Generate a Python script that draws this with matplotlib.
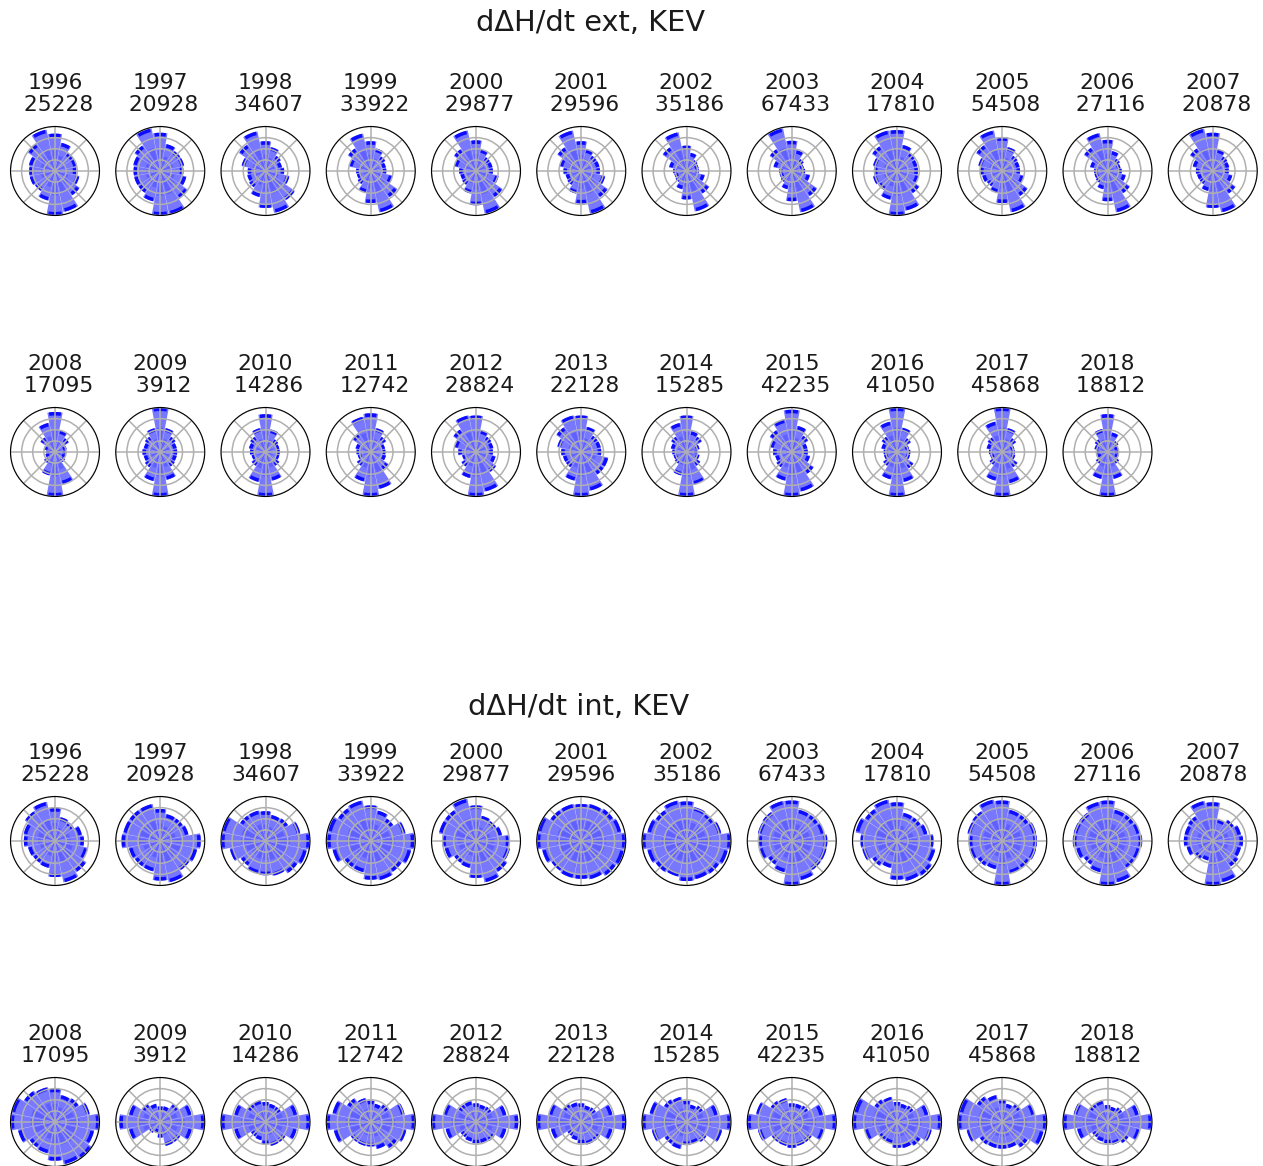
import matplotlib
matplotlib.use("Agg")
import matplotlib.pyplot as plt
import numpy as np

# years and event counts shown above each rose
years = list(range(1996, 2019))
counts = [25228, 20928, 34607, 33922, 29877, 29596, 35186, 67433, 17810, 54508, 27116, 20878,
          17095, 3912, 14286, 12742, 28824, 22128, 15285, 42235, 41050, 45868, 18812]

# rose values, clockwise from north in 16 sectors, scaled to the outer circle
ext_1996 = [.84, .65, .5, .5, .48, .56, .67, .94, 1.0, .68, .55, .58, .58, .6, .74, .95]
ext_1997 = [.86, .62, .55, .55, .52, .6, .75, 1.0, 1.0, .7, .6, .6, .6, .62, .7, .98]
ext_1998 = [.67, .55, .42, .38, .42, .55, .8, .96, .83, .6, .45, .42, .4, .55, .72, .91]
ext_1999 = [.67, .52, .4, .35, .35, .5, .72, .95, .72, .5, .36, .32, .33, .5, .62, .86]
ext_2000 = [.69, .5, .38, .38, .38, .52, .72, .98, .77, .52, .38, .36, .38, .5, .6, .93]
ext_2001 = [.67, .5, .42, .42, .42, .55, .72, .98, .73, .52, .38, .36, .4, .5, .65, .93]
ext_2002 = [.57, .42, .3, .28, .28, .42, .62, .93, .64, .42, .3, .28, .3, .4, .65, .89]
ext_2003 = [.68, .48, .33, .28, .3, .42, .69, .95, .68, .42, .3, .28, .28, .42, .6, .98]
ext_2004 = [.92, .6, .5, .47, .47, .5, .61, .91, 1.0, .66, .52, .55, .52, .55, .68, .93]
ext_2005 = [.76, .55, .42, .4, .4, .5, .69, .95, .72, .5, .42, .46, .5, .55, .71, .93]
ext_2006 = [.7, .46, .34, .3, .32, .42, .61, .95, .68, .42, .32, .3, .3, .4, .64, .87]
ext_2007 = [.86, .5, .4, .38, .36, .45, .62, .95, .83, .46, .36, .36, .38, .46, .62, .97]
ext_2008 = [.9, .5, .38, .27, .25, .25, .28, .74, 1.0, .54, .3, .22, .2, .26, .4, .67]
ext_2009 = [1.0, .55, .42, .38, .38, .38, .4, .64, 1.0, .67, .42, .38, .4, .38, .42, .55]
ext_2010 = [.85, .52, .35, .32, .32, .32, .38, .66, 1.0, .69, .38, .32, .35, .38, .42, .55]
ext_2011 = [.87, .55, .42, .33, .33, .35, .48, .85, 1.0, .68, .38, .3, .32, .35, .5, .81]
ext_2012 = [.82, .5, .42, .4, .38, .45, .55, .91, 1.0, .6, .4, .32, .4, .5, .62, .84]
ext_2013 = [.82, .58, .45, .45, .45, .62, .62, .89, 1.0, .66, .42, .42, .45, .55, .68, .84]
ext_2014 = [.82, .48, .42, .3, .25, .3, .38, .75, 1.0, .54, .32, .3, .32, .36, .42, .67]
ext_2015 = [.95, .6, .45, .36, .36, .42, .6, .91, 1.0, .66, .42, .38, .42, .5, .6, .75]
ext_2016 = [1.0, .56, .38, .28, .3, .3, .45, .69, 1.0, .63, .38, .3, .3, .36, .42, .7]
ext_2017 = [1.0, .55, .38, .28, .28, .3, .42, .72, 1.0, .66, .35, .28, .3, .36, .4, .7]
ext_2018 = [.85, .45, .3, .25, .24, .26, .32, .62, 1.0, .62, .32, .24, .26, .3, .35, .53]

int_1996 = [.74, .55, .52, .62, .65, .75, .85, .95, .81, .62, .6, .62, .7, .72, .82, .9]
int_1997 = [.72, .62, .62, .65, .91, .85, .8, .95, .89, .7, .7, .72, .87, .85, .85, .85]
int_1998 = [.67, .6, .62, .8, 1.0, .95, .88, .8, .77, .75, .68, .82, 1.0, 1.0, .7, .7]
int_1999 = [.8, .7, .62, .8, .98, .93, .85, .9, .87, .72, .72, .88, .98, .98, .9, .93]
int_2000 = [.8, .58, .55, .6, .75, .78, .85, .95, .83, .62, .6, .72, .76, .85, .85, .97]
int_2001 = [.83, .85, .88, .92, 1.0, .98, .95, .88, .85, .85, .82, .9, 1.0, 1.0, .85, .85]
int_2002 = [.89, .78, .75, .8, 1.0, .95, .9, .88, .9, .82, .85, .9, 1.0, .9, .85, .93]
int_2003 = [.91, .72, .72, .75, .8, .8, .8, .9, 1.0, .72, .65, .75, .75, .78, .8, .92]
int_2004 = [.87, .65, .65, .7, .82, .88, .95, .92, .87, .62, .68, .8, .82, .95, .88, .95]
int_2005 = [.91, .72, .72, .78, .78, .78, .75, .75, 1.0, .65, .68, .76, .75, .8, .82, .95]
int_2006 = [.91, .72, .72, .75, .78, .75, .75, .95, 1.0, .72, .65, .72, .78, .78, .78, .9]
int_2007 = [.87, .5, .58, .65, .68, .65, .7, .95, 1.0, .45, .5, .6, .65, .65, .68, .92]
int_2008 = [.75, .62, .65, .8, 1.0, .9, 1.0, .97, .87, .72, .7, .85, 1.0, 1.0, .85, .8]
int_2009 = [.35, .36, .5, .72, 1.0, .73, .55, .55, .35, .25, .3, .72, .92, .72, .5, .42]
int_2010 = [.45, .42, .42, .73, 1.0, .72, .55, .55, .5, .42, .4, .72, 1.0, .72, .5, .5]
int_2011 = [.48, .42, .48, .78, 1.0, .82, .72, .62, .55, .55, .55, .85, 1.0, .88, .65, .55]
int_2012 = [.42, .4, .42, .7, .95, .7, .52, .48, .48, .45, .42, .7, 1.0, .75, .48, .48]
int_2013 = [.42, .38, .4, .72, 1.0, .72, .52, .52, .48, .42, .38, .7, 1.0, .75, .5, .45]
int_2014 = [.48, .4, .45, .72, 1.0, .82, .55, .5, .52, .62, .6, .8, 1.0, .85, .62, .58]
int_2015 = [.42, .42, .45, .72, 1.0, .75, .55, .55, .58, .55, .55, .78, 1.0, .82, .58, .55]
int_2016 = [.45, .42, .45, .72, 1.0, .8, .65, .6, .58, .5, .5, .75, 1.0, .98, .62, .58]
int_2017 = [.5, .42, .5, .75, 1.0, .95, .7, .6, .6, .6, .62, .82, 1.0, .98, .7, .62]
int_2018 = [.38, .35, .4, .72, 1.0, .75, .58, .52, .48, .45, .42, .7, 1.0, .78, .5, .5]

ext_values = [ext_1996, ext_1997, ext_1998, ext_1999, ext_2000, ext_2001, ext_2002, ext_2003,
              ext_2004, ext_2005, ext_2006, ext_2007, ext_2008, ext_2009, ext_2010, ext_2011,
              ext_2012, ext_2013, ext_2014, ext_2015, ext_2016, ext_2017, ext_2018]
int_values = [int_1996, int_1997, int_1998, int_1999, int_2000, int_2001, int_2002, int_2003,
              int_2004, int_2005, int_2006, int_2007, int_2008, int_2009, int_2010, int_2011,
              int_2012, int_2013, int_2014, int_2015, int_2016, int_2017, int_2018]

W, H = 1263, 1166
fig = plt.figure(figsize=(W / 100, H / 100), dpi=100)

theta = np.deg2rad(np.arange(16) * 22.5)
bar_w = np.deg2rad(22.0)
radius = 44.5
x_step = 105.25


def draw_rose(cx, cy, vals, title):
    ax = fig.add_axes([(cx - radius) / W, 1 - (cy + radius) / H, 2 * radius / W, 2 * radius / H],
                      projection="polar")
    ax.set_theta_zero_location("N")
    ax.set_theta_direction(-1)
    v = np.array(vals)
    ax.bar(theta, v, width=bar_w, color="blue", alpha=0.53, linewidth=0)
    # darker core and heavy outer cap of each sector
    ax.bar(theta, v * 0.55, width=bar_w * 0.65, color="blue", alpha=0.2, linewidth=0)
    ax.bar(theta, 0.08, bottom=v - 0.08, width=bar_w * 0.8, color="blue", linewidth=0, alpha=0.9)
    ax.set_ylim(0, 1)
    ax.set_yticks([0.25, 0.5, 0.75, 1.0])
    ax.set_xticks(np.deg2rad(np.arange(0, 360, 45)))
    ax.set_xticklabels([])
    ax.set_yticklabels([])
    ax.grid(True, color="#b0b0b0", linewidth=1.1)
    ax.set_title(title, fontsize=15.7, pad=11, color="#1a1a1a", linespacing=1.13)


for i, y in enumerate(years):
    row = i // 12
    col = i % 12
    cx = 55 + col * x_step
    draw_rose(cx, 171 + row * 281, ext_values[i], f"{y}\n {counts[i]}")
    draw_rose(cx, 841 + row * 281, int_values[i], f"{y}\n{counts[i]}")

fig.text(590 / W, 1 - 22.5 / H, "d\u0394H/dt ext, KEV", fontsize=20.7, ha="center", va="center", color="#1a1a1a")
fig.text(579 / W, 1 - 706.5 / H, "d\u0394H/dt int, KEV", fontsize=20.7, ha="center", va="center", color="#1a1a1a")

fig.savefig("out.png", dpi=100)
